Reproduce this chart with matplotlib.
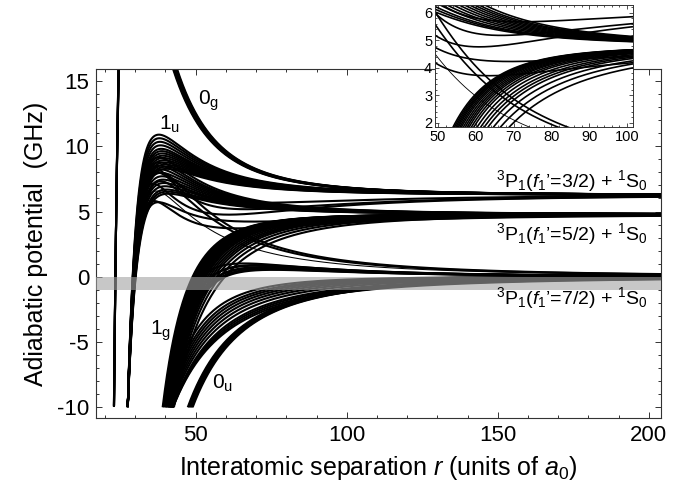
import numpy as np
import matplotlib.pyplot as plt
from matplotlib.ticker import MultipleLocator

plt.rcParams['font.family'] = ['Liberation Sans', 'DejaVu Sans']
plt.rcParams['mathtext.fontset'] = 'custom'
plt.rcParams['mathtext.rm'] = 'Liberation Sans'
plt.rcParams['mathtext.it'] = 'Liberation Sans:italic'
plt.rcParams['mathtext.bf'] = 'Liberation Sans:bold'
plt.rcParams['axes.unicode_minus'] = False

# dissociation limits (GHz)
limit_32 = 6.27
limit_52 = 4.78
limit_72 = 0.0

# 1u states: E + a (50/r)^3 - b (30/r)^8
u32_a = [3.2, 3.05, 2.9, 2.75, 2.6, 2.5, 2.4, 2.3, 2.2, 2.1, 2.0, 1.9, 1.8, 1.7]
u32_b = [17.7, 17.25, 16.8, 16.35, 15.9, 15.6, 15.3, 15.0, 14.7, 14.4, 14.1, 13.8, 13.5, 13.2]
u52_a = [3.0, 2.8, 2.65, 2.5, 2.35, 2.2, 2.05, 1.9, 1.75, 1.6, 1.5, 1.4]
u52_b = [16.4, 15.8, 15.3, 14.9, 14.4, 14.0, 13.5, 13.1, 12.6, 12.2, 11.9, 11.6]

# 1u states dipping below their limit: E + a (50/r)^4 - c (50/r)^3 - b (30/r)^6.5
dip32_a = [13.85, 13.67, 9.83]
dip32_c = [13.19, 12.15, 8.19]
dip32_b = [50.2, 52.7, 42.3]
dip52_a = [11.34, 8.0]
dip52_c = [10.44, 6.84]
dip52_b = [43.2, 34.7]

# 1u states crossing down to the f'=7/2 limit: a (50/r)^n - b (30/r)^6
u72_a = [7.0, 6.5]
u72_n = [2.5, 2.5]
u72_b = [24.4, 23.1]
thin_a, thin_n, thin_b = 4.6, 2.3, 14.05

# 0g states
og_a = [5.9, 6.0, 6.1, 6.2, 6.3, 6.4, 6.5]
og_b = [12.4, 12.6, 12.8, 13.0, 13.2, 13.4, 13.6]

# 1g states rising to f'=5/2: E - a (50/r)^n
g52_a = [4.3, 4.45, 4.6, 4.75, 4.9, 5.05, 5.2, 5.4, 5.6, 5.8,
         6.0, 6.2, 6.4, 6.65, 6.9, 7.2, 7.5, 7.8, 8.2, 8.7]
g52_n = [5.0, 5.0, 5.0, 5.0, 5.0, 4.95, 4.9, 4.85, 4.8, 4.75,
         4.7, 4.6, 4.5, 4.35, 4.2, 4.1, 4.0, 3.8, 3.6, 3.4]

# 1g states with a small barrier above f'=7/2: a (50/r)^3 - c (50/r)^5.7
bump_a = [5.0, 5.2, 4.9, 4.7, 4.5, 4.3, 4.1, 3.9]
bump_c = [5.6, 6.8, 6.4, 6.7, 6.5, 6.6, 6.4, 6.3]

# 1g states approaching f'=7/2 from below
g72_a = [6.66, 6.55, 6.41, 6.26, 5.93, 5.64, 5.35, 5.07, 4.79, 4.52, 4.17]
g72_n = [2.5, 2.6, 2.7, 2.8, 3.0, 3.2, 3.4, 3.6, 3.8, 4.0, 4.3]

# 0u states
ou_a = [8.5, 8.65, 8.8, 8.95, 9.1, 9.25, 9.4]


def potential(r, e, a, n, b=0.0, k=8, c=0.0, m=3.0):
    return e + a * (50 / r) ** n - c * (50 / r) ** m - b * (30 / r) ** k


# (limit, a, n, b, k, c, m, thin)
curves = []
for a, b in zip(u32_a, u32_b):
    curves.append((limit_32, a, 3, b, 8, 0, 3, False))
for a, b in zip(u52_a, u52_b):
    curves.append((limit_52, a, 3, b, 8, 0, 3, False))
for a, c, b in zip(dip32_a, dip32_c, dip32_b):
    curves.append((limit_32, a, 4, b, 6.5, c, 3, False))
for a, c, b in zip(dip52_a, dip52_c, dip52_b):
    curves.append((limit_52, a, 4, b, 6.5, c, 3, False))
for a, n, b in zip(u72_a, u72_n, u72_b):
    curves.append((limit_72, a, n, b, 6, 0, 3, False))
curves.append((limit_72, thin_a, thin_n, thin_b, 8, 0, 3, True))
for a, b in zip(og_a, og_b):
    curves.append((limit_32, a, 3.5, b, 8, 0, 3, False))
for a, n in zip(g52_a, g52_n):
    curves.append((limit_52, -a, n, 0, 8, 0, 3, False))
for a, c in zip(bump_a, bump_c):
    curves.append((limit_72, a, 3, 0, 8, c, 5.7, False))
for a, n in zip(g72_a, g72_n):
    curves.append((limit_72, -a, n, 0, 8, 0, 3, False))
for a in ou_a:
    curves.append((limit_72, -a, 3, 0, 8, 0, 3, False))

r = np.linspace(18, 204, 30000)


def draw(ax, lw):
    for e, a, n, b, k, c, m, thin in curves:
        v = potential(r, e, a, n, b, k, c, m)
        v = np.where(v >= -10, v, np.nan)
        ax.plot(r, v, color='k', lw=lw * (0.5 if thin else 1.0),
                solid_capstyle='butt')


fig = plt.figure(figsize=(7, 4.87), dpi=100)
ax = fig.add_axes([96 / 700, 69 / 487, 565 / 700, 349 / 487])
draw(ax, 1.5)
ax.axhspan(-1, 0, color=(0.64, 0.64, 0.64), alpha=0.6, lw=0, zorder=3)

ax.set_xlim(17, 204)
ax.set_ylim(-10.82, 15.92)
ax.set_xticks([50, 100, 150, 200])
ax.set_yticks([-10, -5, 0, 5, 10, 15])
ax.xaxis.set_minor_locator(MultipleLocator(10))
ax.yaxis.set_minor_locator(MultipleLocator(1))
ax.tick_params(which='both', direction='in', top=True, right=True,
               labelsize=16, width=0.7, color='#333333')
ax.tick_params(which='major', length=4, pad=5)
ax.tick_params(which='minor', length=2.5)
for s in ax.spines.values():
    s.set_linewidth(0.8)
    s.set_color('#333333')

ax.set_xlabel('Interatomic separation $r$ (units of $a_0$)', fontsize=18, labelpad=6)
ax.set_ylabel('Adiabatic potential  (GHz)', fontsize=18, labelpad=6)

lab = dict(fontsize=14, ha='right', va='baseline', zorder=5)
ax.text(199.7, 6.85, "$^3$P$_1$($f_1$\u2019=3/2) + $^1$S$_0$", **lab)
ax.text(199.7, 2.82, "$^3$P$_1$($f_1$\u2019=5/2) + $^1$S$_0$", **lab)
ax.text(199.7, -2.09, "$^3$P$_1$($f_1$\u2019=7/2) + $^1$S$_0$", **lab)

st = dict(fontsize=15, ha='center', va='center', zorder=5)
ax.text(54.4, 13.5, r'0$_\mathrm{g}$', **st)
ax.text(41.3, 11.7, r'1$_\mathrm{u}$', **st)
ax.text(38.5, -4.1, r'1$_\mathrm{g}$', **st)
ax.text(59.0, -8.2, r'0$_\mathrm{u}$', **st)

# inset
axi = fig.add_axes([435 / 700, 360 / 487, 198 / 700, 122 / 487])
draw(axi, 1.2)
axi.set_xlim(49.2, 101.6)
axi.set_ylim(1.85, 6.28)
axi.set_xticks([50, 60, 70, 80, 90, 100])
axi.set_yticks([2, 3, 4, 5, 6])
axi.xaxis.set_minor_locator(MultipleLocator(2))
axi.yaxis.set_minor_locator(MultipleLocator(0.2))
axi.tick_params(which='both', direction='in', top=True, right=True,
                labelsize=10.5, width=0.6, pad=2, color='#333333')
axi.tick_params(which='major', length=3)
axi.tick_params(which='minor', length=1.5)
for s in axi.spines.values():
    s.set_linewidth(0.7)
    s.set_color('#333333')

fig.savefig('out.png', dpi=100)
